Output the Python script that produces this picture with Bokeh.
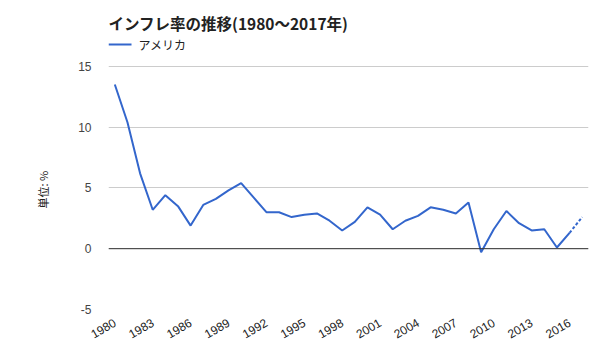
import math
from bokeh.plotting import figure
from bokeh.models import FixedTicker, Range1d, Label, BoxAnnotation, Span, Title
from bokeh.embed import file_html
from bokeh.resources import INLINE

years = list(range(1980, 2018))
inflation = [13.5, 10.4, 6.2, 3.2, 4.4, 3.5, 1.9, 3.6, 4.1, 4.8,
             5.4, 4.2, 3.0, 3.0, 2.6, 2.8, 2.9, 2.3, 1.5, 2.2,
             3.4, 2.8, 1.6, 2.3, 2.7, 3.4, 3.2, 2.9, 3.8, -0.3,
             1.6, 3.1, 2.1, 1.5, 1.6, 0.1, 1.3, 2.6]
x_ticks = list(range(1980, 2017, 3))
y_ticks = [-5, 0, 5, 10, 15]
y_tick_labels = ["-5", "0", "5", "10", "15"]
title_text = "インフレ率の推移(1980～2017年)"
series_name = "アメリカ"
y_label = "単位: %"

JP = "Noto Sans CJK JP"
NUM = "Liberation Sans"
BLUE = "#3366CC"

# frame extends above the 15 gridline so the title and legend sit inside it
p = figure(width=596, height=356, output_backend="svg", toolbar_location=None,
           x_range=Range1d(1979.5, 2017.5), y_range=Range1d(-5, 20),
           min_border_left=108, min_border_right=8, min_border_top=5,
           min_border_bottom=47)
p.outline_line_color = None
p.background_fill_color = "white"

# lines
p.line(years[:-1], inflation[:-1], line_color=BLUE, line_width=2)
p.line(years[-2:], inflation[-2:], line_color=BLUE, line_width=2, line_dash="3 2")

# axes
p.xaxis.ticker = FixedTicker(ticks=x_ticks)
p.xaxis.major_label_orientation = math.pi / 6
p.xaxis.axis_line_color = None
p.xaxis.major_tick_line_color = None
p.xaxis.minor_tick_line_color = None
p.xaxis.major_label_text_font = NUM
p.xaxis.major_label_text_font_size = "12px"
p.xaxis.major_label_text_color = "#222222"
p.xaxis.major_label_standoff = 6

p.yaxis.ticker = FixedTicker(ticks=y_ticks)
p.yaxis.major_label_overrides = {t: s for t, s in zip(y_ticks, y_tick_labels)}
p.yaxis.axis_line_color = None
p.yaxis.major_tick_line_color = None
p.yaxis.minor_tick_line_color = None
p.yaxis.major_label_text_font = NUM
p.yaxis.major_label_text_font_size = "12px"
p.yaxis.major_label_text_color = "#444444"
p.yaxis.major_label_standoff = 11

# y-axis label as a side title (placed relative to the frame bottom)
p.add_layout(Title(text=y_label, align="left", offset=101, standoff=50,
                   text_font=JP, text_font_style="normal", text_font_size="11px",
                   text_color="#222222"), "left")

p.xgrid.grid_line_color = None
p.ygrid.ticker = FixedTicker(ticks=y_ticks)
p.ygrid.grid_line_color = "#cccccc"
p.ygrid.grid_line_width = 1

p.add_layout(Span(location=0, dimension="width", line_color="#333333", line_width=1))

# title (screen units measured from the frame's bottom-left)
p.add_layout(Label(x=0, y=287, x_units="screen", y_units="screen", text=title_text,
                   text_font=JP, text_font_style="bold", text_font_size="15.5px",
                   text_color="#222222", text_baseline="middle"))
# legend
p.add_layout(BoxAnnotation(left=0, right=23, top=266, bottom=264,
                           left_units="screen", right_units="screen",
                           top_units="screen", bottom_units="screen",
                           fill_color=BLUE, fill_alpha=1, line_color=None))
p.add_layout(Label(x=30, y=265, x_units="screen", y_units="screen", text=series_name,
                   text_font=JP, text_font_size="12px", text_color="#222222",
                   text_baseline="middle"))

open("out.html", "w").write(file_html(p, INLINE))
